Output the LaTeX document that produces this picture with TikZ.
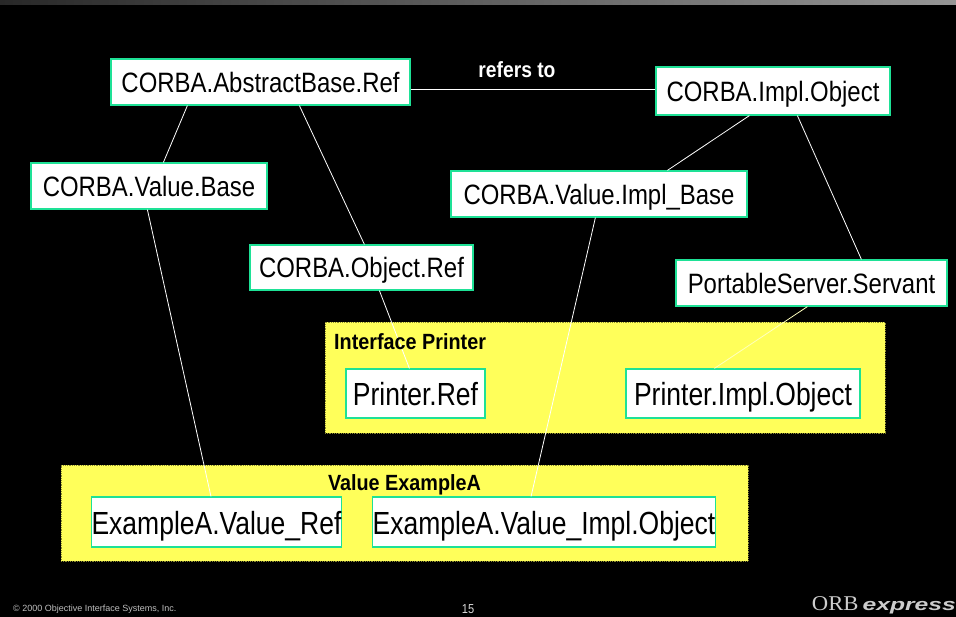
\documentclass[tikz,border=0pt]{standalone}
\usepackage{fontspec}
\setmainfont{Liberation Sans}
\newfontfamily\logoserif{Liberation Serif}
\usetikzlibrary{calc}
\definecolor{bandA}{RGB}{40,40,40}
\definecolor{bandB}{RGB}{150,150,150}
\definecolor{boxedge}{RGB}{30,225,150}
\definecolor{panelfill}{RGB}{255,255,90}
\definecolor{paleline}{RGB}{255,255,190}
\newcommand{\condA}[1]{\raisebox{-10.5pt}[0pt][0pt]{\scalebox{0.855}[1]{#1}}}
\newcommand{\condB}[1]{\raisebox{-12pt}[0pt][0pt]{\scalebox{0.828}[1]{#1}}}
\newcommand{\condC}[1]{\scalebox{0.9}[1]{#1}}
\tikzset{
  cbox/.style={draw=boxedge,line width=1.2pt,fill=white,text=black,inner sep=0pt,font=\fontsize{28}{30}\selectfont},
  bigbox/.style={cbox,font=\fontsize{32}{34}\selectfont},
  panel/.style={draw=panelfill!55!black,densely dotted,line width=0.8pt,fill=panelfill,inner sep=0pt},
  link/.style={draw=white,line width=0.8pt},
  blabel/.style={font=\bfseries\fontsize{22}{24}\selectfont,inner sep=0pt}
}
\begin{document}
\begin{tikzpicture}[x=1pt,y=-1pt]
\useasboundingbox (0,0) rectangle (956,617);
\fill[black] (0,0) rectangle (956,617);
\shade[left color=bandA,right color=bandB] (0,0) rectangle (956,4.5);
% panels
\node[panel,minimum width=560pt,minimum height=111pt] (pi) at (605,377.5) {};
\node[panel,minimum width=687pt,minimum height=96pt] (pv) at (404.5,513) {};
% boxes
\path
 node[cbox,minimum width=299pt,minimum height=46pt] (abs) at (260.5,82) {\condA{CORBA.AbstractBase.Ref}}
 node[cbox,minimum width=236pt,minimum height=46pt] (vb) at (149,186) {\condA{CORBA.Value.Base}}
 node[cbox,minimum width=234pt,minimum height=48pt] (io) at (773,91) {\condA{CORBA.Impl.Object}}
 node[cbox,minimum width=296pt,minimum height=46pt] (vib) at (599,194) {\condA{CORBA.Value.Impl\_Base}}
 node[cbox,minimum width=223pt,minimum height=45pt] (or) at (361.5,267.5) {\condA{CORBA.Object.Ref}}
 node[cbox,minimum width=271pt,minimum height=46pt] (ps) at (811.5,283) {\condA{PortableServer.Servant}}
 node[bigbox,minimum width=139pt,minimum height=49pt] (pr) at (415.5,393.5) {\condB{Printer.Ref}}
 node[bigbox,minimum width=234pt,minimum height=49pt] (pio) at (743,393.5) {\condB{Printer.Impl.Object}}
 node[bigbox,minimum width=249pt,minimum height=50pt] (evr) at (216.5,522) {\condB{ExampleA.Value\_Ref}}
 node[bigbox,minimum width=342pt,minimum height=50pt] (evi) at (544,522) {\condB{ExampleA.Value\_Impl.Object}};
% links
\draw[link] ($(abs.east)+(0,7)$) -- ($(io.west)+(0,-2)$);
\draw[link] ($(abs.south west)+(77,0)$) -- ($(vb.north west)+(133,0)$);
\draw[link] ($(abs.south west)+(189,0)$) -- ($(or.north west)+(115,0)$);
\draw[link] ($(vb.south west)+(117,0)$) -- ($(evr.north west)+(120,0)$);
\draw[link] ($(or.south west)+(130,0)$) -- ($(pr.north west)+(64,0)$);
\draw[link] ($(io.south west)+(94,0)$) -- ($(vib.north west)+(217,0)$);
\draw[link] ($(io.south west)+(142,0)$) -- ($(ps.north west)+(186,0)$);
\draw[link] ($(vib.south west)+(145,0)$) -- ($(evi.north west)+(159,0)$);
\draw[draw=paleline,line width=0.8pt] ($(ps.south west)+(132,0)$) -- ($(pio.north west)+(89,0)$);
% labels
\node[blabel,text=white] (refers) at (517,70) {\scalebox{0.875}[1]{refers to}};
\node[blabel,text=black,anchor=west] (ipl) at (334,342) {\condC{Interface Printer}};
\node[blabel,text=black] (vel) at (404.5,485) {\condC{Value ExampleA}};
\node[font=\fontsize{9}{10}\selectfont,text=white!75!black,anchor=west,inner sep=0pt] (copy) at (13,609) {© 2000 Objective Interface Systems, Inc.};
\node[font=\fontsize{13}{14}\selectfont,text=white!85!black,inner sep=0pt] (pg) at (468,609) {\scalebox{0.85}[1]{15}};
\node[anchor=east,inner sep=0pt,text=white!80!black] (logo) at (956,605) {\scalebox{1.08}[1]{\logoserif\fontsize{21}{22}\selectfont ORB}\hspace{4pt}\scalebox{1.45}[1]{\bfseries\itshape\fontsize{17}{18}\selectfont express}};
\end{tikzpicture}
\end{document}
